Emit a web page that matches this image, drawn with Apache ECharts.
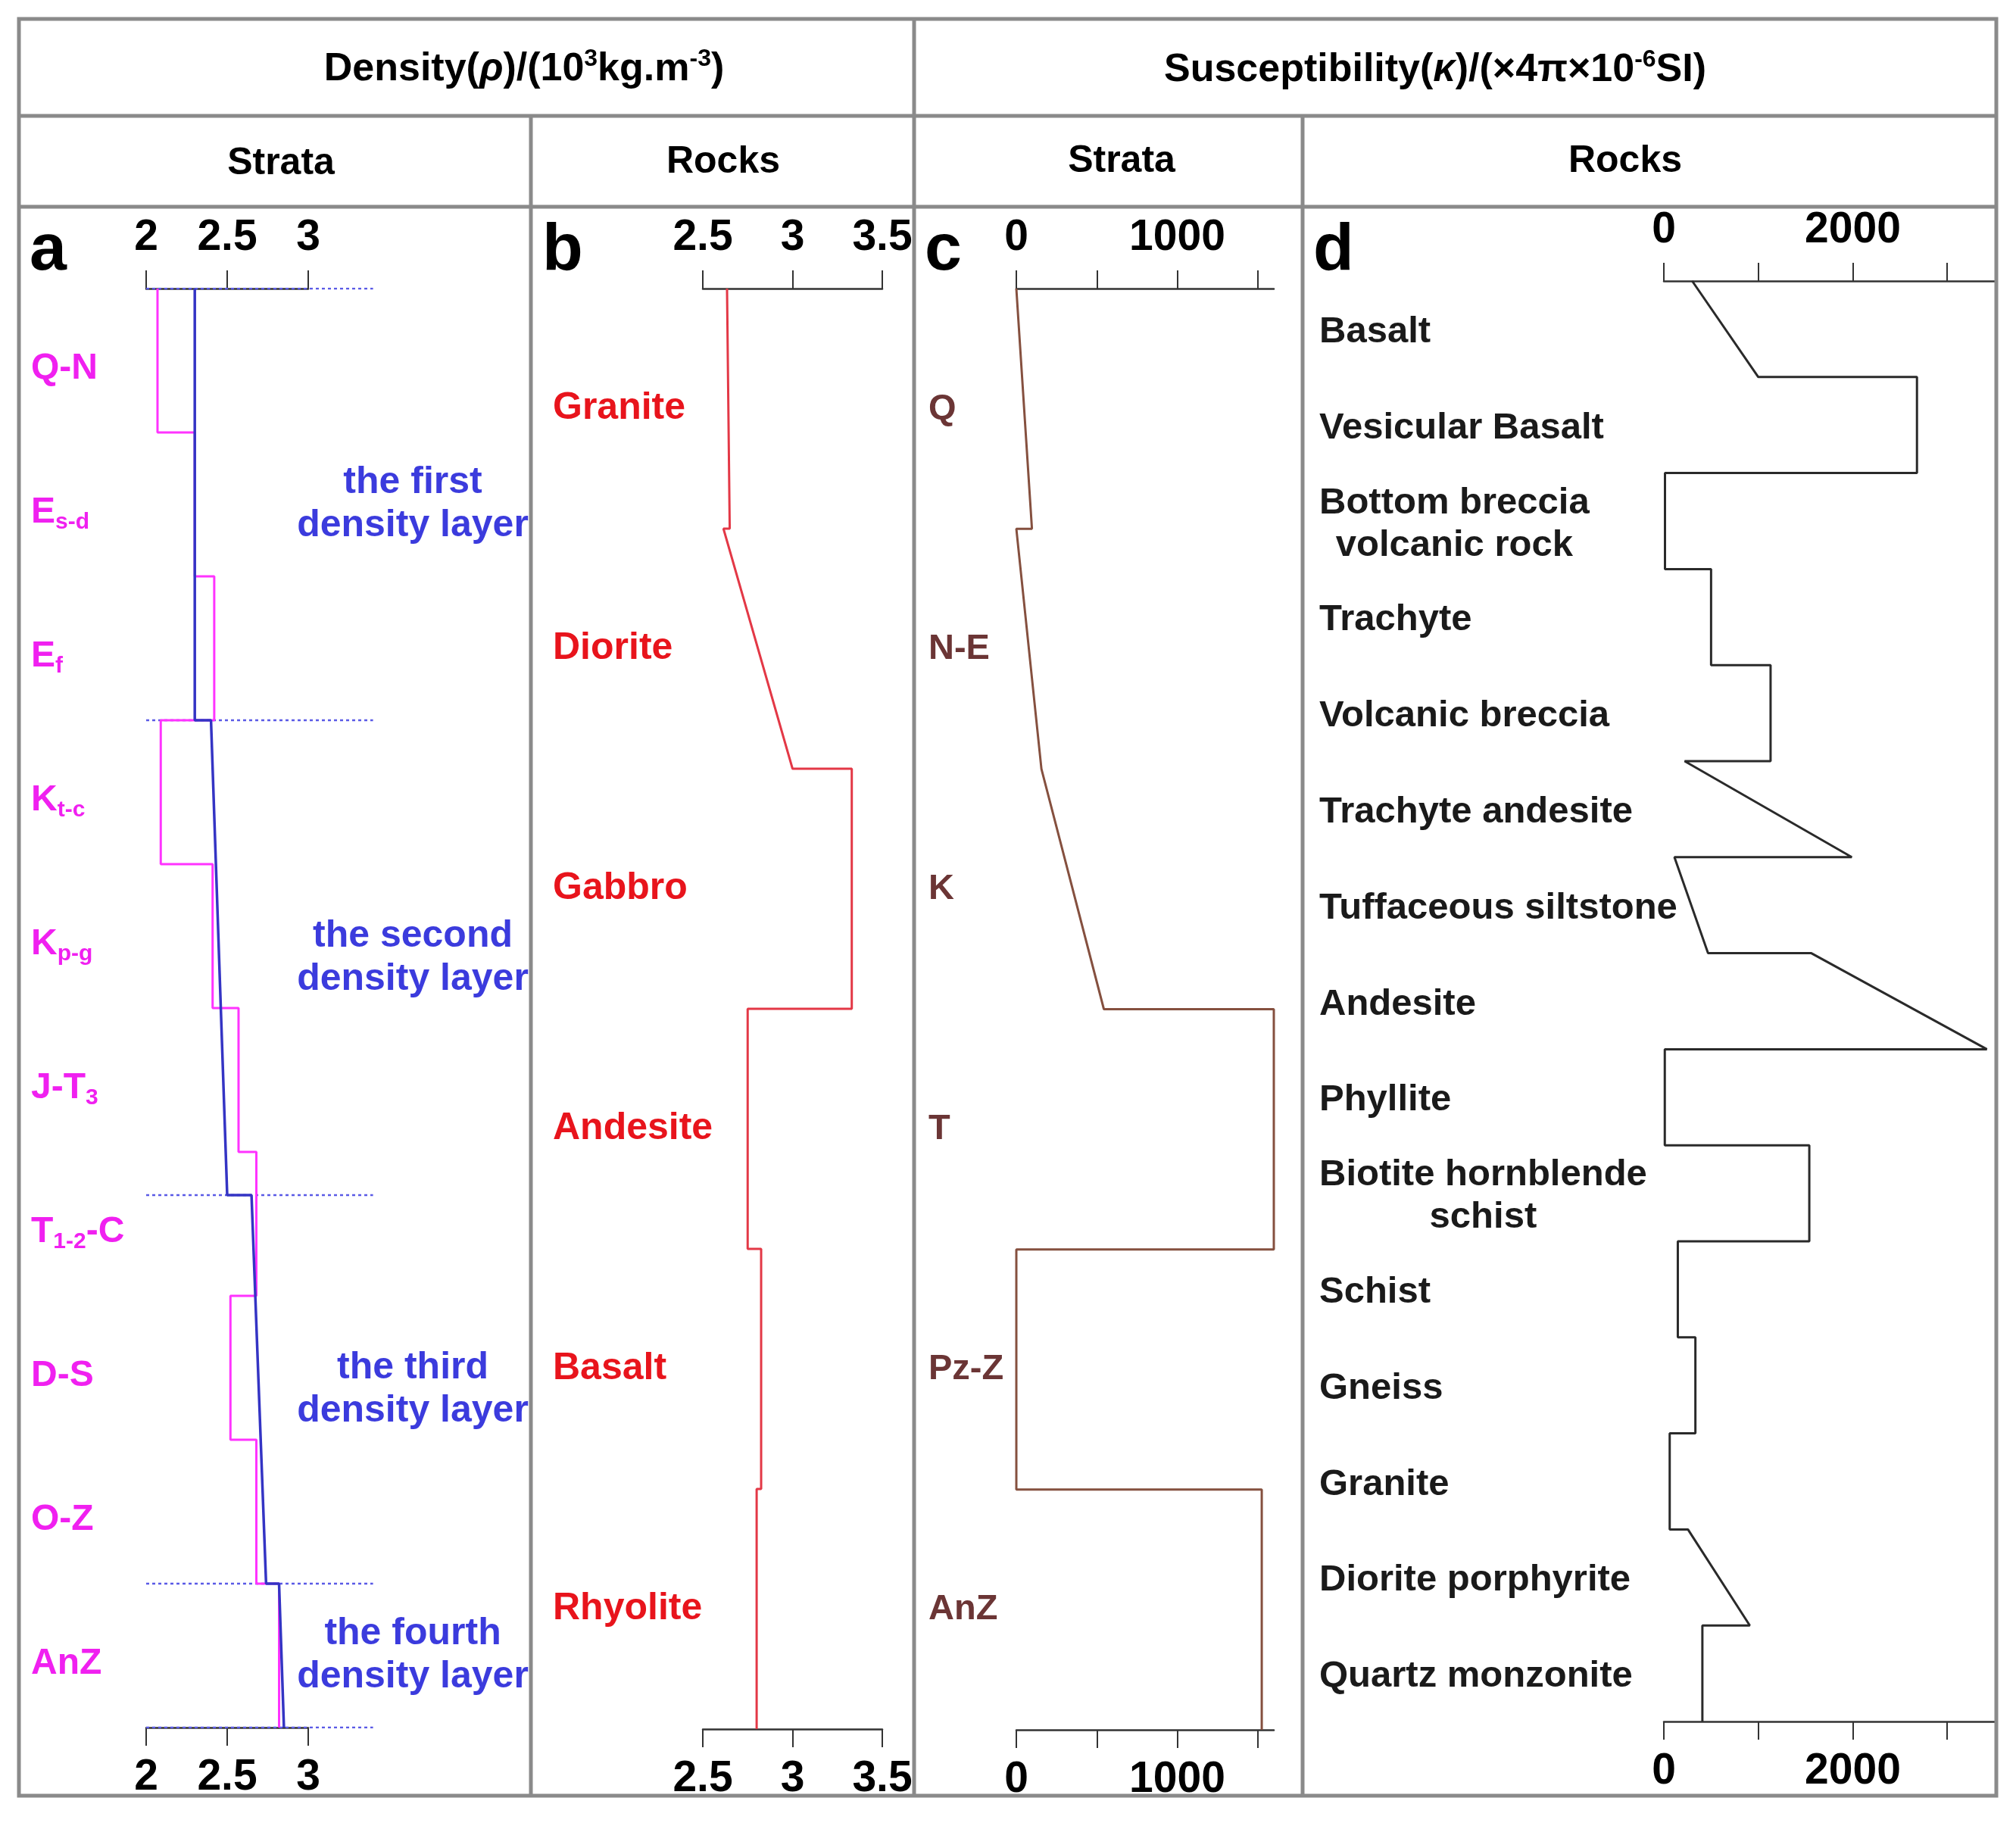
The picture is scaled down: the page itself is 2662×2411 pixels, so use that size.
<!DOCTYPE html>
<html><head><meta charset="utf-8">
<script src="https://cdn.jsdelivr.net/npm/echarts@6/dist/echarts.min.js"></script>
<style>html,body{margin:0;padding:0;background:#fff}#chart{width:2662px;height:2411px}</style>
</head><body><div id="chart"></div>
<script>
// ---------- Panel a: strata density ----------
const strataA = ['Q-N','E_{s-d}','E_{f}','K_{t-c}','K_{p-g}','J-T_{3}','T_{1-2}-C','D-S','O-Z','AnZ'];
const strataDensity = [2.07,2.30,2.42,2.09,2.41,2.57,2.68,2.52,2.68,2.82];
const layerBounds = [0,3,6.3,9,10];
const layerTopDensity = [2.30,2.40,2.65,2.82];
const layerBottomDensity = [2.30,2.50,2.74,2.85];
const layerNames = ['the first\ndensity layer','the second\ndensity layer','the third\ndensity layer','the fourth\ndensity layer'];
// ---------- Panel b: rock density ----------
const rocksB = ['Granite','Diorite','Gabbro','Andesite','Basalt','Rhyolite'];
const rockDensityTop = [2.635,2.615,3.33,2.75,2.825,2.80];
const rockDensityBottom = [2.65,3.00,3.33,2.75,2.825,2.80];
// ---------- Panel c: strata susceptibility ----------
const strataC = ['Q','N-E','K','T','Pz-Z','AnZ'];
const strataSuscTop = [0,0,156,1600,0,1525];
const strataSuscBottom = [97,156,544,1600,0,1525];
const suscTicksC = [0,500,1000,1500];
const suscLabelsC = [0,1000];
// ---------- Panel d: rock susceptibility ----------
const rocksD = ['Basalt','Vesicular Basalt','Bottom breccia\nvolcanic rock','Trachyte','Volcanic breccia','Trachyte andesite','Tuffaceous siltstone','Andesite','Phyllite','Biotite hornblende\nschist','Schist','Gneiss','Granite','Diorite porphyrite','Quartz monzonite'];
const rockSuscTop = [300,2680,12,500,1130,220,112,1562,10,1540,148,334,62,255,408];
const rockSuscBottom = [1000,2680,12,500,1130,1990,468,3420,10,1540,148,334,62,910,408];
const suscTicksD = [0,1000,2000,3000];
const suscLabelsD = [0,2000];

const FF = '"Liberation Sans", Arial, sans-serif';

function rampPoints(top, bot, bounds) {
  const p = [];
  top.forEach((v, i) => {
    const y0 = bounds ? bounds[i] : i, y1 = bounds ? bounds[i + 1] : i + 1;
    p.push([v, y0], [bot[i], y1]);
  });
  return p;
}
function stepPoints(vals) { return rampPoints(vals, vals, null); }

const tickLabel = {fontFamily: FF, fontWeight: 'bold', fontSize: 57, color: '#000', margin: 38, formatter: v => String(v)};
function xPair(gi, base) {
  const mk = (pos) => Object.assign({
    type: 'value', gridIndex: gi, position: pos,
    axisLine: {show: true, onZero: false, lineStyle: {color: '#333', width: 2.5}},
    axisTick: Object.assign({show: true, inside: false, length: 24, lineStyle: {color: '#333', width: 2}}, base.tick || {}),
    axisLabel: Object.assign({}, tickLabel, base.label || {}),
    splitLine: {show: false}
  }, base.scale);
  return [mk('top'), mk('bottom')];
}

const xAxis = [].concat(
  xPair(0, {scale: {min: 2, max: 3, interval: 0.5}}),
  xPair(1, {scale: {min: 2.5, max: 3.5, interval: 0.5}}),
  xPair(2, {scale: {min: 0, max: 1600}, tick: {customValues: suscTicksC}, label: {customValues: suscLabelsC}}),
  xPair(3, {scale: {min: 0, max: 3520}, tick: {customValues: suscTicksD}, label: {customValues: suscLabelsD}}),
  // overlay of panel a (same density scale, wider extent) for dotted layer bounds and layer names
  [{type: 'value', gridIndex: 4, min: 2, max: 3.8, show: false, splitLine: {show: false}}]
);

function yPair(gi, n, cats, label) {
  return [
    {type: 'value', gridIndex: gi, min: 0, max: n, inverse: true, show: false},
    {type: 'category', gridIndex: gi, data: cats, inverse: true, position: 'left',
     axisLine: {show: false}, axisTick: {show: false}, splitLine: {show: false},
     axisLabel: Object.assign({interval: 0, align: 'left', fontFamily: FF, fontWeight: 'bold'}, label)}
  ];
}
const magenta = '#f020f0';
const yAxis = [].concat(
  yPair(0, 10, strataA, {
    margin: 152, fontSize: 48, color: magenta, lineHeight: 56, padding: [22, 0, 0, 0],
    formatter: v => v.replace(/_\{([^}]*)\}/g, '{s|$1}'),
    rich: {s: {fontSize: 30, fontWeight: 'bold', fontFamily: FF, color: magenta, verticalAlign: 'bottom', lineHeight: 56}}
  }),
  yPair(1, 6, rocksB, {margin: 198, fontSize: 50, color: '#e8141c'}),
  yPair(2, 6, strataC, {margin: 116, fontSize: 47, color: '#6b3535'}),
  yPair(3, 15, rocksD, {
    margin: 455, fontSize: 49, color: '#1a1a1a', lineHeight: 56, padding: [8, 0, 0, 0],
    formatter: v => v.indexOf('\n') >= 0 ? v.split('\n').map(l => '{c|' + l + '}').join('\n') : v,
    rich: {c: {align: 'center', fontSize: 49, fontWeight: 'bold', fontFamily: FF, color: '#1a1a1a', lineHeight: 56}}
  }),
  [{type: 'value', gridIndex: 4, min: 0, max: 10, inverse: true, show: false}]
);

const grid = [
  {left: 193, top: 381, width: 214, height: 1900},
  {left: 928, top: 381, width: 237, height: 1902},
  {left: 1342, top: 381, width: 340, height: 1903},
  {left: 2197, top: 371, width: 439, height: 1902},
  {left: 193, top: 381, width: 385.2, height: 1900}
];

const lineS = (xi, data, color, width, z) => ({
  type: 'line', xAxisIndex: xi, yAxisIndex: xi, data, symbol: 'none', silent: true,
  lineStyle: {color, width}, z: z || 3
});

const DOT_END = 3.4;
const series = [];
// dotted layer boundaries in panel a
layerBounds.forEach(b => {
  series.push({type: 'line', xAxisIndex: 8, yAxisIndex: 8, symbol: 'none', silent: true, z: 2,
    data: [[2, b], [DOT_END, b]], lineStyle: {color: '#5a5ae6', width: 2.5, type: [4, 4]}});
});
series.push(lineS(0, stepPoints(strataDensity), '#ff33ff', 3, 3));
series.push(lineS(0, rampPoints(layerTopDensity, layerBottomDensity, layerBounds), '#3434c4', 3.5, 4));
// density layer names
series.push({
  type: 'scatter', xAxisIndex: 8, yAxisIndex: 8, symbolSize: 0, silent: true, z: 5,
  itemStyle: {color: 'transparent'},
  data: layerNames.map((nm, i) => ({value: [3.645, (layerBounds[i] + layerBounds[i + 1]) / 2], name: nm})),
  label: {show: true, position: [0, 0], formatter: p => p.name, fontFamily: FF, fontWeight: 'bold',
    fontSize: 50, lineHeight: 57, color: '#0a0ad4', align: 'center', verticalAlign: 'middle',
    textBorderWidth: 0, textBorderColor: 'transparent', textShadowBlur: 0}
});
series.push(lineS(2, rampPoints(rockDensityTop, rockDensityBottom), '#e33846', 3));
series.push(lineS(4, rampPoints(strataSuscTop, strataSuscBottom), '#85503f', 3));
series.push(lineS(6, rampPoints(rockSuscTop, rockSuscBottom), '#2a2a2a', 3));

const GR = '#8a8a8a';
const ln = (x1, y1, x2, y2) => ({type: 'line', z: 100, silent: true, shape: {x1, y1, x2, y2}, style: {stroke: GR, lineWidth: 5}});
const txt = (x, y, text, size, extra) => ({type: 'text', z: 101, silent: true, x, y,
  style: Object.assign({text, fontSize: size, fontWeight: 'bold', fontFamily: FF, fill: '#000', align: 'center', verticalAlign: 'middle'}, extra || {})});
const supRich = {
  sup: {fontSize: 32, fontWeight: 'bold', fontFamily: FF, fill: '#000', verticalAlign: 'top', lineHeight: 60},
  it: {fontSize: 52, fontWeight: 'bold', fontStyle: 'italic', fontFamily: FF, fill: '#000', lineHeight: 60}
};
const graphic = [
  {type: 'rect', z: 100, silent: true, shape: {x: 25, y: 25, width: 2611, height: 2346}, style: {fill: 'none', stroke: GR, lineWidth: 5}},
  ln(25, 153, 2636, 153), ln(25, 273, 2636, 273),
  ln(1207, 25, 1207, 2371), ln(701, 153, 701, 2371), ln(1720, 153, 1720, 2371),
  txt(692, 92, 'Density({it|ρ})/(10{sup|3}kg.m{sup|-3})', 52, {rich: supRich, lineHeight: 60}),
  txt(1895, 93, 'Susceptibility({it|κ})/(×4π×10{sup|-6}SI)', 52, {rich: supRich, lineHeight: 60}),
  txt(371, 216, 'Strata', 50), txt(955, 214, 'Rocks', 50),
  txt(1481, 213, 'Strata', 50), txt(2146, 213, 'Rocks', 50),
  txt(39, 332, 'a', 88, {align: 'left'}), txt(716, 332, 'b', 88, {align: 'left'}),
  txt(1221, 332, 'c', 88, {align: 'left'}), txt(1734, 332, 'd', 88, {align: 'left'})
];

const chart = echarts.init(document.getElementById('chart'), null, {renderer: 'canvas'});
chart.setOption({backgroundColor: '#fff', animation: false, grid, xAxis, yAxis, series, graphic});
</script></body></html>
